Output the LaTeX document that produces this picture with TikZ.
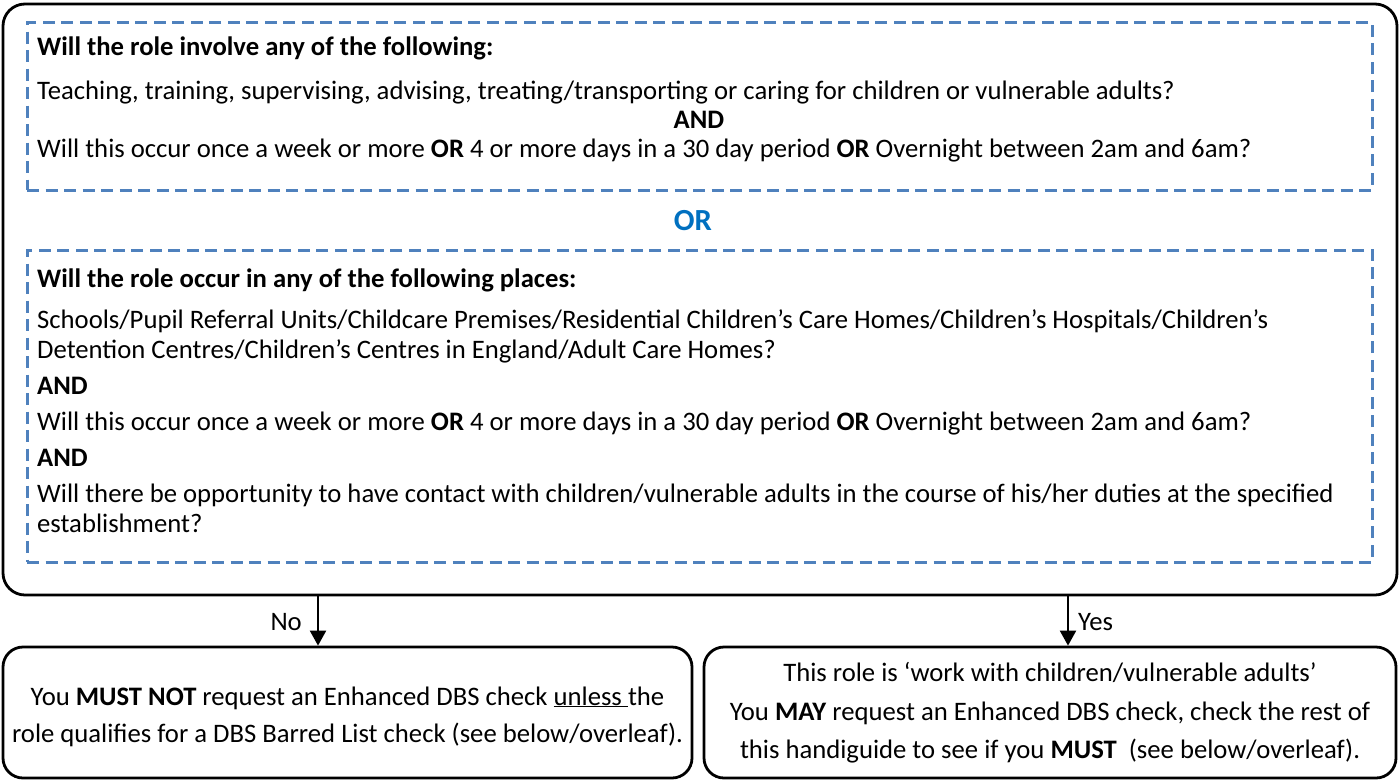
\documentclass[tikz,border=0pt]{standalone}
\usepackage{fontspec}
\setmainfont{Carlito}
\usetikzlibrary{arrows.meta}
\definecolor{dashblue}{RGB}{79,129,189}
\definecolor{orblue}{RGB}{0,112,192}
\newlength\reflw
\begin{document}
\settowidth\reflw{\fontsize{10pt}{12pt}\selectfont Will this occur once a week or more \textbf{OR} 4 or more days in a 30 day period \textbf{OR} Overnight between 2am and 6am?}%
\pgfmathsetmacro\fs{10*1214/\reflw}%
\pgfmathsetmacro\orfs{1.15*\fs}%
\begin{tikzpicture}[x=1pt,y=-1pt]
\tikzset{
  txt/.style={inner sep=0pt, anchor=base west, font=\fontsize{\fs pt}{\fs pt}\selectfont},
  ctxt/.style={txt, anchor=base},
  dbox/.style={draw=dashblue, line width=3pt, dash pattern=on 12pt off 6.5pt, inner sep=0pt, rectangle},
  rbox/.style={draw=black, line width=2.8pt, rounded corners=22pt, inner sep=0pt, rectangle},
  arr/.style={line width=2.2pt, -{Triangle[length=15pt,width=16pt]}},
}
\useasboundingbox (0,0) rectangle (1399,780);
% frames
\node[rbox, minimum width=1394pt, minimum height=591pt] (outer) at (700,299.5) {};
\node[dbox, minimum width=1345pt, minimum height=168pt] (box1) at (699.5,106) {};
\node[dbox, minimum width=1345pt, minimum height=312pt] (box2) at (699.5,406) {};
\node[rbox, rounded corners=20pt, minimum width=689pt, minimum height=131pt] (nobox) at (347.5,712.5) {};
\node[rbox, rounded corners=20pt, minimum width=692pt, minimum height=131pt] (yesbox) at (1050,712.5) {};
% box 1 text
\node[txt] (t1) at (37,55) {\textbf{Will the role involve any of the following:}};
\node[txt] (t2) at (37,99) {Teaching, training, supervising, advising, treating/transporting or caring for children or vulnerable adults?};
\node[ctxt] (t3) at (699,128) {\textbf{AND}};
\node[txt] (t4) at (37,157) {Will this occur once a week or more \textbf{OR} 4 or more days in a 30 day period \textbf{OR} Overnight between 2am and 6am?};
% OR
\node[ctxt, font=\fontsize{\orfs pt}{\orfs pt}\selectfont\bfseries, text=orblue] (or) at (693,230) {OR};
% box 2 text
\node[txt] (s1) at (37,287) {\textbf{Will the role occur in any of the following places:}};
\node[txt] (s2) at (37,328) {Schools/Pupil Referral Units/Childcare Premises/Residential Children’s Care Homes/Children’s Hospitals/Children’s};
\node[txt] (s3) at (37,358) {Detention Centres/Children’s Centres in England/Adult Care Homes?};
\node[txt] (s4) at (37,394) {\textbf{AND}};
\node[txt] (s5) at (37,430) {Will this occur once a week or more \textbf{OR} 4 or more days in a 30 day period \textbf{OR} Overnight between 2am and 6am?};
\node[txt] (s6) at (37,466) {\textbf{AND}};
\node[txt] (s7) at (37,502) {Will there be opportunity to have contact with children/vulnerable adults in the course of his/her duties at the specified};
\node[txt] (s8) at (37,532) {establishment?};
% arrows
\coordinate (noa) at (318,595);
\coordinate (yesa) at (1068,595);
\draw[arr] (noa) -- (noa |- nobox.north);
\draw[arr] (yesa) -- (yesa |- yesbox.north);
\node[txt, anchor=base east] (nolab) at (302,630) {No};
\node[txt] (yeslab) at (1078,630) {Yes};
% bottom texts
\node[ctxt] (n1) at (347.5,705) {You \textbf{MUST NOT} request an Enhanced DBS check \underline{unless\ }the};
\node[ctxt] (n2) at (347.5,742) {role qualifies for a DBS Barred List check (see below/overleaf).};
\node[ctxt] (y1) at (1050,681) {This role is ‘work with children/vulnerable adults’};
\node[ctxt] (y2) at (1050,720) {You \textbf{MAY} request an Enhanced DBS check, check the rest of};
\node[ctxt] (y3) at (1050,758) {this handiguide to see if you \textbf{MUST}\ \ (see below/overleaf).};
\end{tikzpicture}
\end{document}
